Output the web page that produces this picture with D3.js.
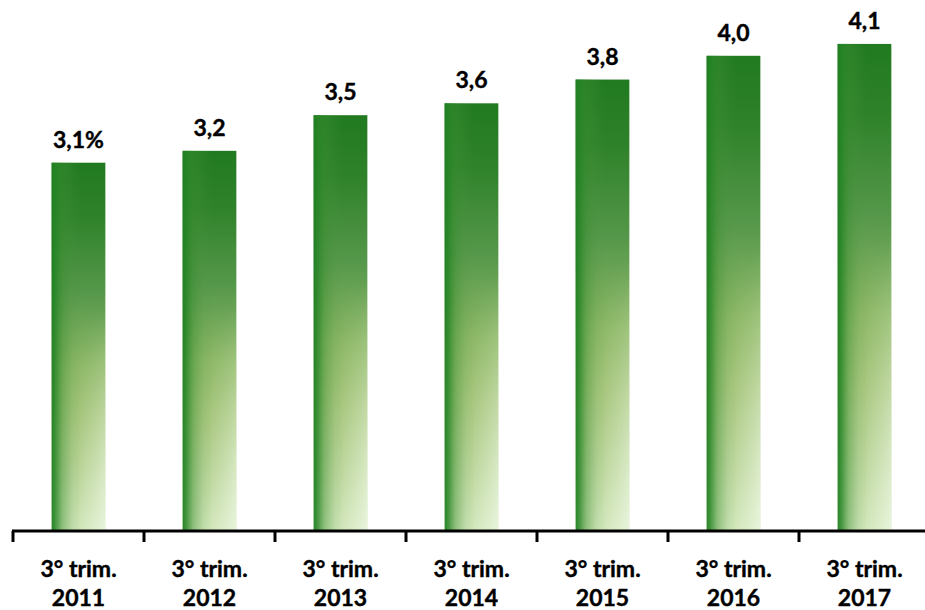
<!DOCTYPE html>
<html>
<head>
<meta charset="utf-8">
<script src="https://cdn.jsdelivr.net/npm/d3@7"></script>
<style>
  html, body { margin: 0; padding: 0; background: #fff; }
  svg { display: block; font-family: Lato, "Open Sans", sans-serif; }
</style>
</head>
<body>
<svg id="chart" width="925" height="610"></svg>
<script>
// Share values per third quarter, one bar per year
const years = ["2011", "2012", "2013", "2014", "2015", "2016", "2017"];
const quarterLabel = "3° trim.";
const values = [3.1, 3.2, 3.5, 3.6, 3.8, 4.0, 4.1];
const valueLabels = ["3,1%", "3,2", "3,5", "3,6", "3,8", "4,0", "4,1"];

const svg = d3.select("#chart");
const baseY = 531;

const x = d3.scaleBand()
  .domain(years)
  .range([13, 930])
  .paddingInner(0.59)
  .paddingOuter(0.295);

const y = d3.scaleLinear()
  .domain([0, 4.4])
  .range([baseY, baseY - 4.4 * 118.8]);

// Gradients: vertical green fade, dark left edge, pale right bottom
const defs = svg.append("defs");

const vert = defs.append("linearGradient")
  .attr("id", "vert").attr("x1", 0).attr("y1", 0).attr("x2", 0).attr("y2", 1);
[[0, "#217a20"], [0.15, "#2f822a"], [0.35, "#55974a"], [0.55, "#8db866"],
 [0.7, "#a8c77f"], [0.85, "#bcd69c"], [1, "#d2e7bb"]]
  .forEach(([o, c]) => vert.append("stop").attr("offset", o).attr("stop-color", c));

const horiz = defs.append("linearGradient")
  .attr("id", "horiz").attr("x1", 0).attr("y1", 0).attr("x2", 1).attr("y2", 0);
[[0, "#1f7f1f", 0.95], [0.08, "#268626", 0.8], [0.2, "#3a8e30", 0.45],
 [0.4, "#4a9640", 0.12], [0.55, "#4a9640", 0]]
  .forEach(([o, c, op]) => horiz.append("stop").attr("offset", o)
    .attr("stop-color", c).attr("stop-opacity", op));

const pale = defs.append("linearGradient")
  .attr("id", "pale").attr("x1", 0).attr("y1", 0).attr("x2", 1).attr("y2", 0);
[[0.5, 0], [0.8, 0.4], [1, 0.7]]
  .forEach(([o, op]) => pale.append("stop").attr("offset", o)
    .attr("stop-color", "#f2faea").attr("stop-opacity", op));

const fadeMask = defs.append("linearGradient")
  .attr("id", "fadeMaskGrad").attr("x1", 0).attr("y1", 0).attr("x2", 0).attr("y2", 1);
[[0.4, "#000"], [1, "#fff"]]
  .forEach(([o, c]) => fadeMask.append("stop").attr("offset", o).attr("stop-color", c));
defs.append("mask")
  .attr("id", "bottomMask")
  .attr("maskContentUnits", "objectBoundingBox")
  .append("rect").attr("width", 1).attr("height", 1).attr("fill", "url(#fadeMaskGrad)");

const bars = svg.append("g").selectAll("g")
  .data(years.map((yr, i) => ({ yr, v: values[i], label: valueLabels[i] })))
  .join("g");

["url(#vert)", "url(#horiz)"].forEach(fill => {
  bars.append("rect")
    .attr("x", d => x(d.yr))
    .attr("y", d => y(d.v))
    .attr("width", x.bandwidth())
    .attr("height", d => baseY - y(d.v))
    .attr("fill", fill);
});
bars.append("rect")
  .attr("x", d => x(d.yr))
  .attr("y", d => y(d.v))
  .attr("width", x.bandwidth())
  .attr("height", d => baseY - y(d.v))
  .attr("fill", "url(#pale)")
  .attr("mask", "url(#bottomMask)");

// Value labels
bars.append("text")
  .attr("x", d => x(d.yr) + x.bandwidth() / 2)
  .attr("y", d => y(d.v) - 15)
  .attr("text-anchor", "middle")
  .attr("font-size", 23)
  .attr("font-weight", 700)
  .attr("fill", "#000")
  .attr("stroke", "#000")
  .attr("stroke-width", 0.4)
  .text(d => d.label);

// Category axis with ticks between bands
const axis = d3.axisBottom(x).tickSize(0).tickPadding(0).tickFormat(() => "");
const gAxis = svg.append("g").attr("transform", `translate(0,${baseY})`).call(axis);
gAxis.select(".domain").remove();

gAxis.append("line")
  .attr("x1", 12).attr("x2", 925)
  .attr("stroke", "#000").attr("stroke-width", 3);

const step = x.step();
const boundaries = years.map(yr => x(yr) + x.bandwidth() / 2 - step / 2)
  .concat([x(years[years.length - 1]) + x.bandwidth() / 2 + step / 2]);
gAxis.selectAll(".sep")
  .data(boundaries)
  .join("line")
  .attr("class", "sep")
  .attr("x1", d => d).attr("x2", d => d)
  .attr("y1", 0).attr("y2", 11)
  .attr("stroke", "#000").attr("stroke-width", 3);

gAxis.selectAll(".tick text").remove();
gAxis.selectAll(".tick").append("text")
  .attr("text-anchor", "middle")
  .attr("fill", "#000")
  .attr("stroke", "#000")
  .attr("stroke-width", 0.4)
  .attr("font-size", 23)
  .attr("font-weight", 700)
  .attr("font-family", "Lato, sans-serif")
  .each(function (d) {
    const t = d3.select(this);
    t.append("tspan").attr("x", 0).attr("y", 46).text(quarterLabel);
    t.append("tspan").attr("x", 0).attr("y", 75).text(d);
  });
</script>
</body>
</html>
